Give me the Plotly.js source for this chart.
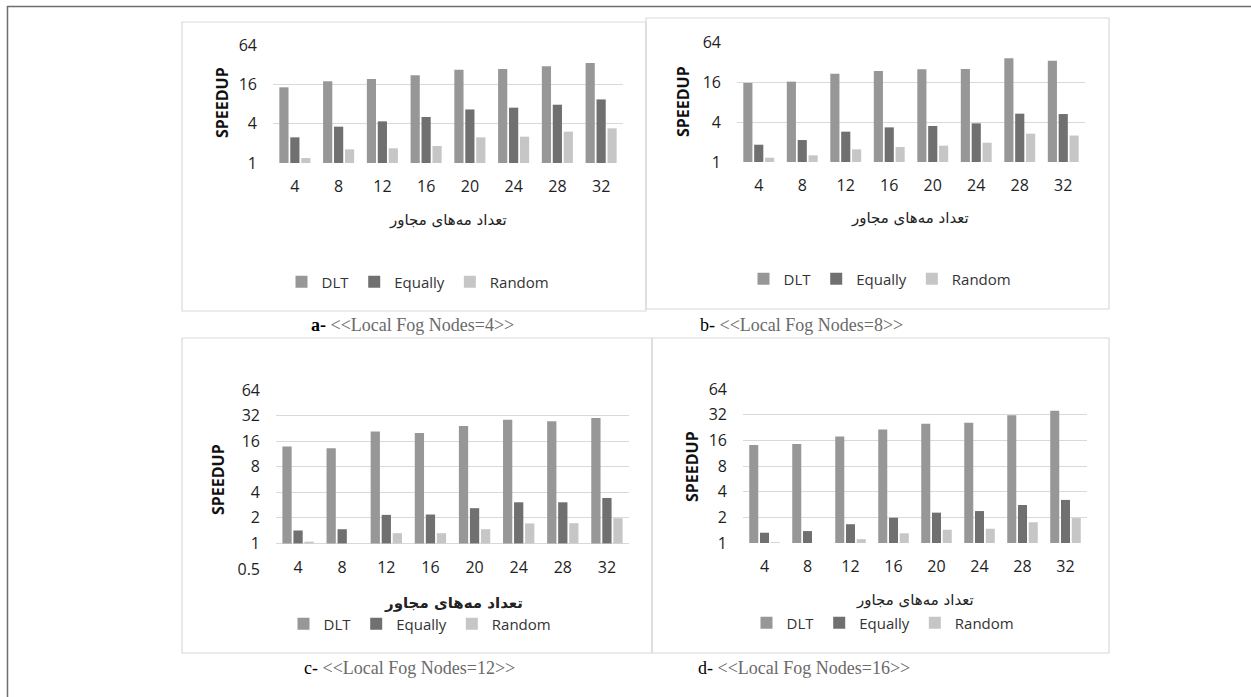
<!DOCTYPE html>
<html>
<head>
<meta charset="utf-8">
<script src="https://cdn.plot.ly/plotly-3.0.1.min.js"></script>
<style>html,body{margin:0;padding:0;background:#fff;}#chart{width:1251px;height:697px;}</style>
</head>
<body>
<div id="chart"></div>
<script>
// ---- data ----
const categories = ['4', '8', '12', '16', '20', '24', '28', '32'];
const seriesNames = ['DLT', 'Equally', 'Random'];

// a- Local Fog Nodes = 4
const dltA = [14.4, 17.8, 19.3, 22.0, 26.8, 27.4, 30.2, 33.9];
const equallyA = [2.47, 3.6, 4.34, 5.06, 6.6, 7.03, 7.8, 9.4];
const randomA = [1.19, 1.62, 1.68, 1.82, 2.47, 2.53, 3.02, 3.39];
// b- Local Fog Nodes = 8
const dltB = [15.5, 16.2, 21.3, 23.4, 24.8, 25.1, 36.3, 33.5];
const equallyB = [1.82, 2.14, 2.86, 3.32, 3.48, 3.82, 5.34, 5.27];
const randomB = [1.16, 1.26, 1.55, 1.68, 1.76, 1.95, 2.67, 2.5];
// c- Local Fog Nodes = 12
const dltC = [13.8, 13.2, 20.8, 19.9, 24.2, 28.5, 27.5, 30.0];
const equallyC = [1.42, 1.47, 2.17, 2.19, 2.6, 3.05, 3.05, 3.43];
const randomC = [1.05, 1.0, 1.32, 1.32, 1.47, 1.72, 1.73, 1.98];
// d- Local Fog Nodes = 16
const dltD = [14.1, 14.5, 17.8, 21.5, 25.1, 25.8, 31.4, 35.6];
const equallyD = [1.32, 1.38, 1.66, 1.98, 2.27, 2.37, 2.79, 3.2];
const randomD = [1.02, 1.0, 1.11, 1.3, 1.43, 1.47, 1.75, 1.96];

const ticksABD = [1, 2, 4, 8, 16, 32, 64];
const ticksAB = [1, 4, 16, 64];
const ticksC = [0.5, 1, 2, 4, 8, 16, 32, 64];

const yTitle = 'SPEEDUP';
const xTitle = 'تعداد مه‌های مجاور';
const captions = [
  ['a-', '<<Local Fog Nodes=4>>'],
  ['b-', '<<Local Fog Nodes=8>>'],
  ['c-', '<<Local Fog Nodes=12>>'],
  ['d-', '<<Local Fog Nodes=16>>']
];

// ---- layout helpers ----
const W = 1251, H = 697;
const px = v => v / W;
const py = v => 1 - v / H;
const colors = ['#979797', '#707070', '#c6c6c6'];
const tickFont = {family: 'Open Sans, Liberation Sans, sans-serif', size: 16, color: '#1e1e1e'};

const panels = [
  {data: [dltA, equallyA, randomA], x: [273, 623], y: [45, 163], ticks: ticksAB, min: 1, xs: 12, leg: [418, 282],
   yt: [222, 103], xt: [448, 220], xtBold: false, cap: [412, 325], box: [182, 22, 646, 311]},
  {data: [dltB, equallyB, randomB], x: [737, 1085], y: [42, 162], ticks: ticksAB, min: 1, xs: 12, leg: [880, 279],
   yt: [683, 102], xt: [910, 218], xtBold: false, cap: [801, 325], box: [646, 18, 1109, 309]},
  {data: [dltC, equallyC, randomC], x: [276, 629], y: [390, 569], ticks: ticksC, min: 0.5, xs: -13, leg: [420, 624],
   yt: [218, 480], xt: [453, 603], xtBold: true, cap: [409, 668], box: [182, 338, 652, 653]},
  {data: [dltD, equallyD, randomD], x: [743, 1087], y: [389, 543], ticks: ticksABD, min: 1, xs: 12, leg: [883, 623],
   yt: [692, 467], xt: [915, 600], xtBold: false, cap: [804, 668], box: [652, 338, 1109, 653]}
];

const traces = [];
const layout = {
  width: W, height: H,
  margin: {l: 0, r: 0, t: 0, b: 0},
  paper_bgcolor: '#ffffff', plot_bgcolor: 'rgba(0,0,0,0)',
  barmode: 'group', bargap: 0.25, bargroupgap: 0.16,
  annotations: [], shapes: [],
  font: {family: 'Open Sans, sans-serif'}
};

// outer frame (top and left)
layout.shapes.push({type: 'line', xref: 'paper', yref: 'paper', x0: px(7), x1: 1, y0: py(6.5), y1: py(6.5), line: {color: '#6e6e6e', width: 1.5}});
layout.shapes.push({type: 'line', xref: 'paper', yref: 'paper', x0: px(7.5), x1: px(7.5), y0: py(6), y1: 0, line: {color: '#6e6e6e', width: 1.5}});

panels.forEach((p, i) => {
  const n = i === 0 ? '' : String(i + 1);
  const xa = 'x' + n, ya = 'y' + n;
  const legId = 'legend' + n;
  p.data.forEach((vals, k) => {
    traces.push({
      type: 'bar', name: seriesNames[k], x: categories,
      y: vals.map(v => v - 1), base: 1, customdata: vals,
      hovertemplate: '%{x}: %{customdata}<extra>' + seriesNames[k] + '</extra>',
      xaxis: xa, yaxis: ya, legend: legId,
      marker: {color: colors[k], line: {width: 0}}
    });
  });
  layout['xaxis' + n] = {
    domain: [px(p.x[0]), px(p.x[1])], anchor: ya, type: 'category',
    showgrid: false, showline: false, zeroline: false, ticks: '',
    tickfont: tickFont, ticklabelstandoff: p.xs, fixedrange: true
  };
  layout['yaxis' + n] = {
    domain: [py(p.y[1]), py(p.y[0])], anchor: xa, type: 'log',
    range: [Math.log10(p.min), Math.log10(64)],
    tickvals: p.ticks, ticktext: p.ticks.map(String),
    showgrid: true, gridcolor: '#d9d9d9', gridwidth: 1,
    showline: false, zeroline: false, ticks: '',
    tickfont: tickFont, ticklabelstandoff: 15, fixedrange: true
  };
  layout[legId] = {
    orientation: 'h', xref: 'paper', yref: 'paper',
    x: px(p.leg[0]), y: py(p.leg[1]), xanchor: 'center', yanchor: 'middle',
    font: {family: 'Open Sans, sans-serif', size: 15, color: '#333'},
    bgcolor: 'rgba(0,0,0,0)', itemwidth: 30, tracegroupgap: 0
  };
  // panel border
  layout.shapes.push({type: 'rect', xref: 'paper', yref: 'paper', layer: 'below',
    x0: px(p.box[0]), x1: px(p.box[2]), y0: py(p.box[3]), y1: py(p.box[1]),
    line: {color: '#d9d9d9', width: 1.2}});
  // y title
  layout.annotations.push({xref: 'paper', yref: 'paper', x: px(p.yt[0]), y: py(p.yt[1]),
    text: '<b>' + yTitle + '</b>', textangle: -90, showarrow: false,
    xanchor: 'center', yanchor: 'middle',
    font: {family: 'Open Sans, sans-serif', size: 16, color: '#111'}});
  // x title
  layout.annotations.push({xref: 'paper', yref: 'paper', x: px(p.xt[0]), y: py(p.xt[1]),
    text: p.xtBold ? '<b>' + xTitle + '</b>' : xTitle, showarrow: false,
    xanchor: 'center', yanchor: 'middle',
    font: {family: 'DejaVu Sans, sans-serif', size: 15, color: '#222'}});
  // caption
  const c = captions[i];
  const esc = s => s.replace(/</g, '&lt;').replace(/>/g, '&gt;');
  layout.annotations.push({xref: 'paper', yref: 'paper', x: px(p.cap[0]), y: py(p.cap[1]),
    text: (i === 0 ? '<b>' + c[0] + '</b>' : c[0]) + ' <span style="color:#6a6a6a">' + esc(c[1]) + '</span>',
    showarrow: false, xanchor: 'center', yanchor: 'middle',
    font: {family: 'Liberation Serif, Times New Roman, serif', size: 18, color: '#000'}});
});

Plotly.newPlot('chart', traces, layout, {displayModeBar: false, staticPlot: true});
</script>
</body>
</html>
